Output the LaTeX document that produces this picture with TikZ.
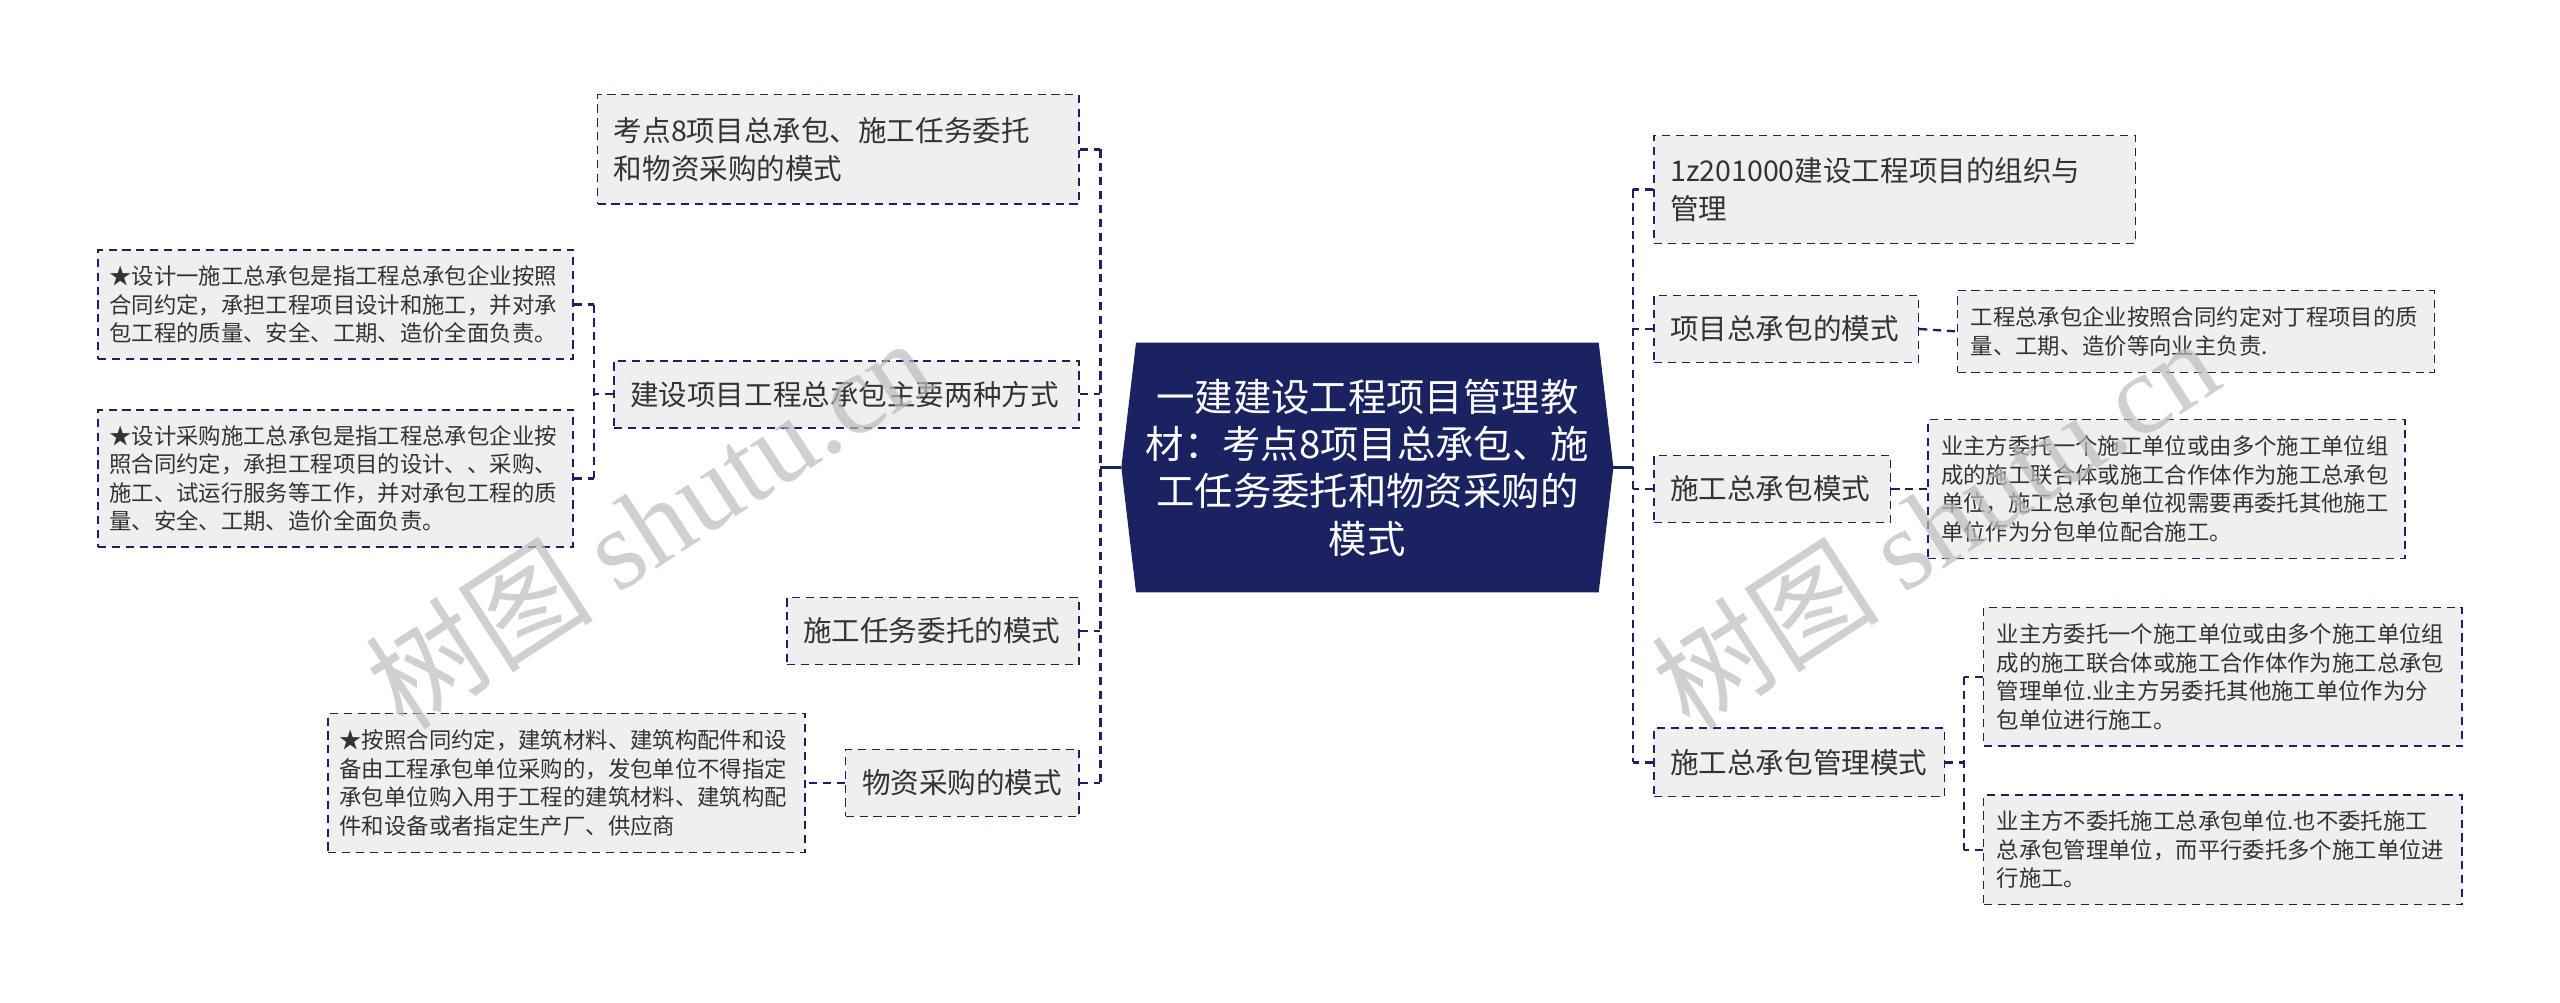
\documentclass[tikz,border=0pt]{standalone}
\usepackage{fontspec}
\setmainfont{Noto Sans CJK SC}
\newfontfamily\wmserif{Liberation Serif}
\usetikzlibrary{backgrounds}
\definecolor{navy}{HTML}{1B2262}
\definecolor{boxfill}{HTML}{EFEFEF}
\definecolor{txt}{HTML}{333333}
\definecolor{wm}{HTML}{BDBDBD}
\begin{document}
\begin{tikzpicture}[x=1pt,y=-1pt,
  box/.style={draw=navy, fill=boxfill, line width=0.9pt, dash pattern=on 5pt off 3.5pt, text=txt, align=left, inner xsep=0pt, inner ysep=0pt, anchor=center},
  mainbox/.style={box, font=\fontsize{17.5}{23}\selectfont},
  leafbox/.style={box, font=\fontsize{13.7}{17.5}\selectfont},
  conn/.style={draw=navy, line width=1.4pt, dash pattern=on 5pt off 3.5pt},
  link/.style={draw=navy, line width=1.6pt},
  wmark/.style={text=wm, opacity=0.7, rotate=33, font=\fontsize{70}{70}\selectfont}]
\useasboundingbox (0,0) rectangle (1568,614);
\begin{scope}[on background layer]
\fill[white] (0,0) rectangle (1568,614);
\end{scope}
% root
\node[text=white, align=center, text width=272pt, minimum width=283pt, minimum height=152.6pt, inner sep=0pt,
  font=\fontsize{23.5}{29}\selectfont] (root) at (837.5,286.3)
  {一建建设工程项目管理教\\材：考点8项目总承包、施\\工任务委托和物资采购的\\模式};
\begin{scope}[on background layer]
\fill[navy] (root.north west) -- (root.north east) -- ([xshift=9pt]root.east) -- (root.south east)
  -- (root.south west) -- ([xshift=-9pt]root.west) -- cycle;
\end{scope}
\coordinate (rootL) at ([xshift=-9pt]root.west);
\coordinate (rootR) at ([xshift=9pt]root.east);
% left main nodes
\node[mainbox, minimum width=295pt, minimum height=67pt, text width=275pt] (n1) at (513.5,91.5)
  {考点8项目总承包、施工任务委托\\和物资采购的模式};
\node[mainbox, minimum width=285pt, minimum height=41pt, text width=265pt] (n2) at (518.5,241.5)
  {建设项目工程总承包主要两种方式};
\node[mainbox, minimum width=179pt, minimum height=41pt, text width=159pt] (n3) at (571.5,386.5)
  {施工任务委托的模式};
\node[mainbox, minimum width=143pt, minimum height=41pt, text width=123pt] (n4) at (589.5,479.5)
  {物资采购的模式};
% left leaves
\node[leafbox, minimum width=291pt, minimum height=67pt, text width=277pt] (l1) at (205.5,186.5)
  {★设计一施工总承包是指工程总承包企业按照\\合同约定，承担工程项目设计和施工，并对承\\包工程的质量、安全、工期、造价全面负责。};
\node[leafbox, minimum width=291pt, minimum height=84pt, text width=277pt] (l2) at (205.5,293)
  {★设计采购施工总承包是指工程总承包企业按\\照合同约定，承担工程项目的设计、、采购、\\施工、试运行服务等工作，并对承包工程的质\\量、安全、工期、造价全面负责。};
\node[leafbox, minimum width=292pt, minimum height=85pt, text width=278pt] (l3) at (347,479.5)
  {★按照合同约定，建筑材料、建筑构配件和设\\备由工程承包单位采购的，发包单位不得指定\\承包单位购入用于工程的建筑材料、建筑构配\\件和设备或者指定生产厂、供应商};
% right main nodes
\node[mainbox, minimum width=295pt, minimum height=66pt, text width=275pt] (r1) at (1160.5,116)
  {1z201000建设工程项目的组织与\\管理};
\node[mainbox, minimum width=162pt, minimum height=41pt, text width=142pt] (r2) at (1094,201.5)
  {项目总承包的模式};
\node[mainbox, minimum width=145pt, minimum height=41pt, text width=125pt] (r3) at (1085.5,299.5)
  {施工总承包模式};
\node[mainbox, minimum width=178pt, minimum height=42pt, text width=158pt] (r4) at (1102,467)
  {施工总承包管理模式};
% right leaves
\node[leafbox, minimum width=292pt, minimum height=50pt, text width=276pt] (rl1) at (1345,203)
  {工程总承包企业按照合同约定对丁程项目的质\\量、工期、造价等向业主负责.};
\node[leafbox, minimum width=292pt, minimum height=85pt, text width=276pt] (rl2) at (1327,299.5)
  {业主方委托一个施工单位或由多个施工单位组\\成的施工联合体或施工合作体作为施工总承包\\单位，施工总承包单位视需要再委托其他施工\\单位作为分包单位配合施工。};
\node[leafbox, minimum width=293pt, minimum height=85pt, text width=277pt] (rl3) at (1361.5,414.5)
  {业主方委托一个施工单位或由多个施工单位组\\成的施工联合体或施工合作体作为施工总承包\\管理单位.业主方另委托其他施工单位作为分\\包单位进行施工。};
\node[leafbox, minimum width=293pt, minimum height=67pt, text width=277pt] (rl4) at (1361.5,520.5)
  {业主方不委托施工总承包单位.也不委托施工\\总承包管理单位，而平行委托多个施工单位进\\行施工。};
% trunks
\coordinate (lt) at (674,286.3);
\coordinate (rt) at (1000,286.3);
\coordinate (s1) at (364,241.5);
\coordinate (s2) at (1203,467);
\draw[link] (rootL) -- (lt);
\draw[link] (rootR) -- (rt);
\draw[conn] (n1.east -| lt) -- (n4.east -| lt);
\foreach \n in {n1,n2,n3,n4} \draw[conn] (\n.east) -- (\n.east -| lt);
\draw[conn] (r1.west -| rt) -- (r4.west -| rt);
\foreach \n in {r1,r2,r3,r4} \draw[conn] (\n.west) -- (\n.west -| rt);
\draw[conn] (n2.west) -- (s1);
\draw[conn] (l1.east -| s1) -- (l2.east -| s1);
\draw[conn] (l1.east) -- (l1.east -| s1);
\draw[conn] (l2.east) -- (l2.east -| s1);
\draw[conn] (n4.west) -- (l3.east);
\draw[conn] (r2.east) -- (rl1.west);
\draw[conn] (r3.east) -- (rl2.west);
\draw[conn] (r4.east) -- (s2);
\draw[conn] (rl3.west -| s2) -- (rl4.west -| s2);
\draw[conn] (rl3.west) -- (rl3.west -| s2);
\draw[conn] (rl4.west) -- (rl4.west -| s2);
% watermarks
\node[wmark] (wm1) at (397,320) {树图 {\wmserif shutu.cn}};
\node[wmark] (wm2) at (1185,320) {树图 {\wmserif shutu.cn}};
\end{tikzpicture}
\end{document}
